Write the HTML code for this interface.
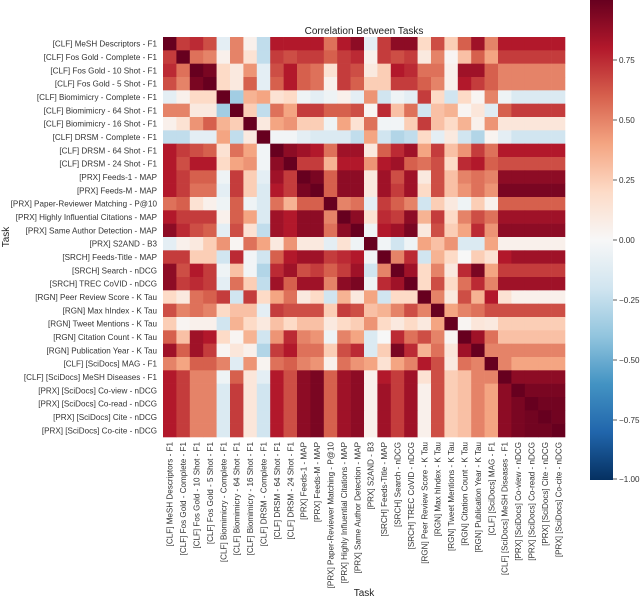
<!DOCTYPE html>
<html><head><meta charset="utf-8"><style>
body{margin:0;background:#fff;}
svg{display:block;font-family:"Liberation Sans",Arial,sans-serif;}
</style></head><body>
<svg id="chart" width="640" height="600" viewBox="0 0 640 600">
<defs>
<linearGradient id="cbar" x1="0" y1="1" x2="0" y2="0">
<stop offset="0" stop-color="#053061"/><stop offset="0.1" stop-color="#2166ac"/><stop offset="0.2" stop-color="#4393c3"/><stop offset="0.3" stop-color="#92c5de"/><stop offset="0.4" stop-color="#d1e5f0"/><stop offset="0.5" stop-color="#f7f7f7"/><stop offset="0.6" stop-color="#fddbc7"/><stop offset="0.7" stop-color="#f4a582"/><stop offset="0.8" stop-color="#d6604d"/><stop offset="0.9" stop-color="#b2182b"/><stop offset="1" stop-color="#67001f"/>
</linearGradient>
</defs>
<text x="364" y="34" text-anchor="middle" font-size="10" fill="#222">Correlation Between Tasks</text>
<g id="cells"></g>
<g id="ylabels"></g>
<g id="xlabels"></g>
<text x="364" y="596" text-anchor="middle" font-size="10" fill="#222">Task</text>
<text transform="translate(9,237) rotate(-90)" text-anchor="middle" font-size="10" fill="#222">Task</text>
<rect x="590" y="0" width="23" height="480" fill="url(#cbar)"/>
<g id="cbticks"></g>
</svg>
<script>
const tasks = ["[CLF] MeSH Descriptors - F1","[CLF] Fos Gold - Complete - F1","[CLF] Fos Gold - 10 Shot - F1","[CLF] Fos Gold - 5 Shot - F1","[CLF] Biomimicry - Complete - F1","[CLF] Biomimicry - 64 Shot - F1","[CLF] Biomimicry - 16 Shot - F1","[CLF] DRSM - Complete - F1","[CLF] DRSM - 64 Shot - F1","[CLF] DRSM - 24 Shot - F1","[PRX] Feeds-1 - MAP","[PRX] Feeds-M - MAP","[PRX] Paper-Reviewer Matching - P@10","[PRX] Highly Influential Citations - MAP","[PRX] Same Author Detection - MAP","[PRX] S2AND - B3","[SRCH] Feeds-Title - MAP","[SRCH] Search - nDCG","[SRCH] TREC CoVID - nDCG","[RGN] Peer Review Score - K Tau","[RGN] Max hIndex - K Tau","[RGN] Tweet Mentions - K Tau","[RGN] Citation Count - K Tau","[RGN] Publication Year - K Tau","[CLF] [SciDocs] MAG - F1","[CLF] [SciDocs] MeSH Diseases - F1","[PRX] [SciDocs] Co-view - nDCG","[PRX] [SciDocs] Co-read - nDCG","[PRX] [SciDocs] Cite - nDCG","[PRX] [SciDocs] Co-cite - nDCG"];
// upper triangle: row i lists correlations for columns i..29
const upperRows = [
[1,0.7,0.75,0.65,-0.1,0.5,0.05,-0.25,0.8,0.8,0.8,0.8,0.55,0.8,0.9,-0.1,0.7,0.9,0.9,0.2,0.65,0.25,0.6,0.85,0.5,0.8,0.8,0.8,0.8,0.8],
[1,0.55,0.5,0.05,0.5,0.15,-0.25,0.7,0.65,0.7,0.7,0.6,0.7,0.75,0.05,0.7,0.65,0.7,0.1,0.5,0.02,0.3,0.6,0.4,0.7,0.7,0.7,0.7,0.7],
[1,0.95,0.2,0.1,0.45,-0.1,0.65,0.8,0.6,0.55,0.15,0.7,0.65,0.1,0.25,0.8,0.75,0.55,0.55,0.05,0.85,0.85,0.6,0.5,0.5,0.5,0.5,0.5],
[1,0.2,0.1,0.6,-0.1,0.6,0.8,0.6,0.55,0.05,0.7,0.6,0.25,0.25,0.7,0.7,0.6,0.5,0.05,0.8,0.7,0.6,0.5,0.5,0.5,0.5,0.5],
[1,-0.35,0.35,0.4,0.15,0.2,-0.05,-0.1,-0.05,0.05,-0.1,0.45,-0.2,-0.05,-0.1,0.7,0.2,-0.2,0.2,0.02,0.5,-0.05,-0.15,-0.15,-0.15,-0.15],
[1,0.25,-0.25,0.55,0.4,0.7,0.7,0.6,0.6,0.65,0.02,0.75,0.3,0.55,-0.2,0.3,0.35,0.02,0.12,-0.12,0.6,0.7,0.7,0.7,0.7],
[1,0.1,0.4,0.45,0.25,0.25,-0.05,0.4,0.15,0.55,-0.03,-0.03,0.25,0.7,0.3,0.2,0.35,0.05,0.45,0.12,0.12,0.12,0.12,0.12],
[1,-0.03,-0.03,-0.1,-0.15,-0.15,-0.15,-0.25,0.4,-0.2,-0.3,-0.25,0.2,-0.1,0.1,-0.2,-0.3,0.03,-0.1,-0.2,-0.2,-0.2,-0.2],
[1,0.9,0.85,0.8,0.55,0.85,0.85,0.1,0.6,0.75,0.85,0.4,0.7,0.3,0.45,0.7,0.55,0.8,0.8,0.8,0.8,0.8],
[1,0.7,0.7,0.35,0.8,0.8,0.45,0.8,0.85,0.6,0.55,0.65,0.2,0.75,0.8,0.6,0.65,0.65,0.65,0.65,0.65],
[1,0.95,0.6,0.9,0.9,0.1,0.85,0.65,0.85,0.1,0.65,0.3,0.5,0.55,0.5,0.9,0.9,0.9,0.9,0.9],
[1,0.6,0.9,0.9,0.1,0.85,0.7,0.85,0.2,0.65,0.3,0.45,0.55,0.45,0.95,0.95,0.95,0.95,0.95],
[1,0.5,0.55,-0.1,0.7,0.6,0.5,-0.2,0.25,0.1,-0.05,0.25,0.05,0.6,0.6,0.6,0.6,0.6],
[1,0.9,0.15,0.75,0.7,0.9,0.35,0.7,0.2,0.5,0.65,0.55,0.85,0.85,0.85,0.85,0.85],
[1,-0.05,0.8,0.85,0.95,0.1,0.65,0.25,0.4,0.75,0.45,0.9,0.9,0.9,0.9,0.9],
[1,-0.03,-0.2,-0.05,0.4,0.3,0.45,-0.15,-0.15,0.4,0.05,0.05,0.05,0.05,0.05],
[1,0.5,0.75,-0.2,0.35,0.2,0.0,0.25,0.15,0.8,0.85,0.85,0.85,0.85],
[1,0.85,0.2,0.5,0.1,0.75,0.95,0.4,0.7,0.7,0.7,0.7,0.7],
[1,0.2,0.65,0.2,0.55,0.75,0.5,0.85,0.85,0.85,0.85,0.85],
[1,0.5,0.1,0.65,0.35,0.8,0.15,0.05,0.05,0.05,0.05],
[1,0.4,0.5,0.55,0.65,0.65,0.65,0.65,0.65,0.65],
[1,0.02,0.12,0.1,0.25,0.25,0.25,0.25,0.25],
[1,0.85,0.55,0.3,0.3,0.3,0.3,0.3],
[1,0.5,0.5,0.5,0.5,0.5,0.5],
[1,0.5,0.4,0.4,0.4,0.4],
[1,0.9,0.9,0.9,0.9],
[1,0.95,0.95,0.95],
[1,0.97,0.97],
[1,0.97],
[1]
];
const cbTicks = [0.75,0.5,0.25,0,-0.25,-0.5,-0.75,-1.0];
const cbTickLabels = ["0.75","0.50","0.25","0.00","\u22120.25","\u22120.50","\u22120.75","\u22121.00"];

const NS="http://www.w3.org/2000/svg";
const X0=163,Y0=37,W=402,H=400;
const n=tasks.length;
const cw=W/n,ch=H/n;
const xPos=i=>X0+i*cw, yPos=i=>Y0+i*ch;
const cbY=v=>240-v*240;
const stops=["#053061","#2166ac","#4393c3","#92c5de","#d1e5f0","#f7f7f7","#fddbc7","#f4a582","#d6604d","#b2182b","#67001f"];
function hex(h){return [1,3,5].map(k=>parseInt(h.substr(k,2),16));}
function color(v){
  v=Math.max(-1,Math.min(1,v));
  const t=(v+1)/2*10;const i=Math.min(9,Math.floor(t));const f=t-i;
  const a=hex(stops[i]),b=hex(stops[i+1]);
  return "rgb("+a.map((c,k)=>Math.round(c+(b[k]-c)*f)).join(",")+")";
}
function val(i,j){
  const r=Math.min(i,j),c=Math.max(i,j);
  const row=upperRows[r]||[];const v=row[c-r];
  return v===undefined?0:v;
}
const cells=document.getElementById("cells");
for(let i=0;i<n;i++){for(let j=0;j<n;j++){
  const r=document.createElementNS(NS,"rect");
  r.setAttribute("x",xPos(j).toFixed(2));r.setAttribute("y",yPos(i).toFixed(2));
  r.setAttribute("width",(cw+0.3).toFixed(2));r.setAttribute("height",(ch+0.3).toFixed(2));
  r.setAttribute("fill",color(val(i,j)));
  
  
  cells.appendChild(r);
}}
const yl=document.getElementById("ylabels"),xl=document.getElementById("xlabels");
tasks.forEach((t,i)=>{
  const a=document.createElementNS(NS,"text");
  a.setAttribute("x",X0-6);a.setAttribute("y",(yPos(i)+ch/2+3).toFixed(2));
  a.setAttribute("text-anchor","end");a.setAttribute("font-size","8.1");a.setAttribute("fill","#333");
  a.textContent=t;
  
  
  yl.appendChild(a);
  const b=document.createElementNS(NS,"text");
  const cx=xPos(i)+cw/2+3;
  b.setAttribute("transform","translate("+cx.toFixed(2)+","+(Y0+H+5)+") rotate(-90)");
  b.setAttribute("text-anchor","end");b.setAttribute("font-size","8.1");b.setAttribute("fill","#333");
  b.textContent=t;
  
  
  xl.appendChild(b);
});
const cbt=document.getElementById("cbticks");
cbTicks.forEach((v,k)=>{
  const y=Math.max(1,Math.min(479,cbY(v)));
  const l=document.createElementNS(NS,"line");
  l.setAttribute("x1",613);l.setAttribute("x2",617);l.setAttribute("y1",y);l.setAttribute("y2",y);
  l.setAttribute("stroke","#333");l.setAttribute("stroke-width","0.8");
  
  
  cbt.appendChild(l);
  const tx=document.createElementNS(NS,"text");
  tx.setAttribute("x",619);tx.setAttribute("y",y+3);tx.setAttribute("font-size","8.1");tx.setAttribute("fill","#333");
  tx.textContent=cbTickLabels[k];
  
  
  cbt.appendChild(tx);
});
</script>
</body></html>
